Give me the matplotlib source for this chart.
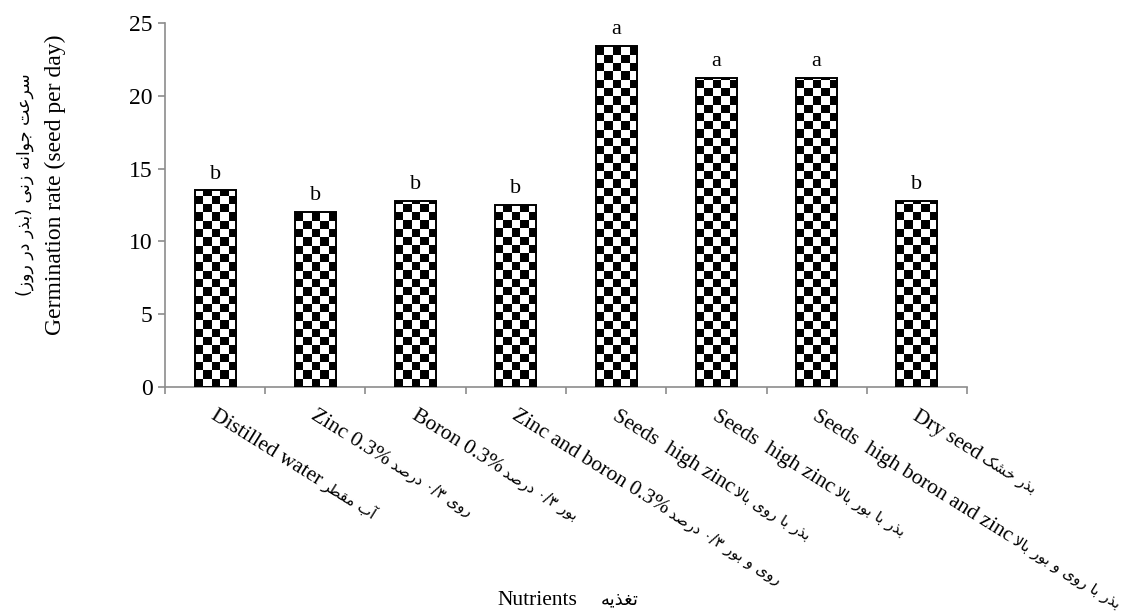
import numpy as np
import matplotlib
matplotlib.use('Agg')
import matplotlib.pyplot as plt

# data
eng_labels = ['Distilled water', 'Zinc 0.3%', 'Boron 0.3%', 'Zinc and boron 0.3%',
              'Seeds  high zinc', 'Seeds  high zinc', 'Seeds  high boron and zinc', 'Dry seed']
fa_labels = ['آب مقطر', 'روی ۰/۳ درصد', 'بور ۰/۳ درصد', 'روی و بور ۰/۳ درصد',
             'بذر با روی بالا', 'بذر با بور بالا', 'بذر با روی و بور بالا', 'بذر خشک']
rates = [13.5, 12.0, 12.8, 12.5, 23.4, 21.2, 21.2, 12.8]
groups = ['b', 'b', 'b', 'b', 'a', 'a', 'a', 'b']
yticks = [0, 5, 10, 15, 20, 25]

# matplotlib does no arabic shaping, so do it by hand: (isolated, final, initial, medial)
FORMS = {
    'ا': ('\ufe8d', '\ufe8e'), 'آ': ('\ufe81', '\ufe82'),
    'ب': ('\ufe8f', '\ufe90', '\ufe91', '\ufe92'), 'ت': ('\ufe95', '\ufe96', '\ufe97', '\ufe98'),
    'ج': ('\ufe9d', '\ufe9e', '\ufe9f', '\ufea0'), 'خ': ('\ufea5', '\ufea6', '\ufea7', '\ufea8'),
    'د': ('\ufea9', '\ufeaa'), 'ذ': ('\ufeab', '\ufeac'),
    'ر': ('\ufead', '\ufeae'), 'ز': ('\ufeaf', '\ufeb0'),
    'س': ('\ufeb1', '\ufeb2', '\ufeb3', '\ufeb4'), 'ش': ('\ufeb5', '\ufeb6', '\ufeb7', '\ufeb8'),
    'ص': ('\ufeb9', '\ufeba', '\ufebb', '\ufebc'), 'ط': ('\ufec1', '\ufec2', '\ufec3', '\ufec4'),
    'ع': ('\ufec9', '\ufeca', '\ufecb', '\ufecc'), 'غ': ('\ufecd', '\ufece', '\ufecf', '\ufed0'),
    'ق': ('\ufed5', '\ufed6', '\ufed7', '\ufed8'), 'ل': ('\ufedd', '\ufede', '\ufedf', '\ufee0'),
    'م': ('\ufee1', '\ufee2', '\ufee3', '\ufee4'), 'ن': ('\ufee5', '\ufee6', '\ufee7', '\ufee8'),
    'ه': ('\ufee9', '\ufeea', '\ufeeb', '\ufeec'), 'و': ('\ufeed', '\ufeee'),
    'ی': ('\ufbfc', '\ufbfd', '\ufbfe', '\ufbff'), 'ک': ('\ufb8e', '\ufb8f', '\ufb90', '\ufb91'),
}
MIRROR = {'(': ')', ')': '('}


def shape(word):
    out = []
    i = 0
    n = len(word)
    while i < n:
        c = word[i]
        if c not in FORMS:
            out.append(c)
            i += 1
            continue
        prev = word[i - 1] if i > 0 else None
        joins_prev = prev in FORMS and len(FORMS[prev]) == 4
        if c == 'ل' and i + 1 < n and word[i + 1] == 'ا':
            out.append('\ufefc' if joins_prev else '\ufefb')
            i += 2
            continue
        nxt = word[i + 1] if i + 1 < n else None
        joins_next = len(FORMS[c]) == 4 and nxt in FORMS
        f = FORMS[c]
        if joins_prev and joins_next:
            out.append(f[3])
        elif joins_prev:
            out.append(f[1])
        elif joins_next:
            out.append(f[2])
        else:
            out.append(f[0])
        i += 1
    return ''.join(out)


def fa(text):
    words = []
    for w in text.split(' ')[::-1]:
        s = shape(w)
        if any(c in FORMS for c in w):
            s = ''.join(MIRROR.get(c, c) for c in s[::-1])
        words.append(s)
    return ' '.join(words)


plt.rcParams['font.family'] = ['Liberation Serif', 'DejaVu Sans']
grey = '#8c8c8c'

fig = plt.figure(figsize=(11.33, 6.15), dpi=100)
ax = fig.add_axes([0.1456, 0.3707, 0.7079, 0.5919])

x = np.arange(len(rates))
bars = ax.bar(x, rates, width=0.41, facecolor='none', edgecolor='black', linewidth=1.4, zorder=3)
ax.set_xlim(-0.5, len(rates) - 0.5)
ax.set_ylim(0, 25)

# checkerboard fill, about 8 px cells
bbox = ax.get_window_extent()
cw = 8.3 * len(rates) / bbox.width
ch = 8.3 * 25 / bbox.height
for b in bars:
    cols = int(np.ceil(b.get_width() / cw))
    rows = int(np.ceil(b.get_height() / ch))
    board = (np.indices((rows, cols)).sum(axis=0) % 2).astype(float)
    im = ax.imshow(board, cmap='gray', interpolation='nearest', aspect='auto', origin='lower',
                   extent=(b.get_x(), b.get_x() + cols * cw, 0, rows * ch), zorder=2)
    im.set_clip_path(b)
ax.set_xlim(-0.5, len(rates) - 0.5)
ax.set_ylim(0, 25)

for xi, v, g in zip(x, rates, groups):
    ax.annotate(g, (xi, v), xytext=(0, 5), textcoords='offset points',
                ha='center', va='bottom', fontsize=16)

for s in ['top', 'right']:
    ax.spines[s].set_visible(False)
for s in ['left', 'bottom']:
    ax.spines[s].set_color(grey)
    ax.spines[s].set_linewidth(1.2)

ax.set_yticks(yticks)
ax.tick_params(axis='y', colors=grey, labelcolor='black', labelsize=17, length=5, width=1.2, pad=4)
ax.set_xticks(np.arange(-0.5, len(rates), 1.0))
ax.set_xticklabels([])
ax.tick_params(axis='x', colors=grey, length=5, width=1.2)

# rotated category labels: english part, then the persian part right after it
renderer = fig.canvas.get_renderer()
rot = 32
ca, sa = np.cos(np.deg2rad(rot)), np.sin(np.deg2rad(rot))
dx, dy = -3.5, -22.5
for xi, e, p in zip(x, eng_labels, fa_labels):
    ax.annotate(e, (xi, 0), xycoords=('data', 'axes fraction'), xytext=(dx, dy),
                textcoords='offset points', rotation=-rot, rotation_mode='anchor',
                ha='left', va='baseline', fontsize=15.5, annotation_clip=False)
    tmp = fig.text(0, 0, e, fontsize=15.5)
    w = tmp.get_window_extent(renderer).width * 72 / fig.dpi + 2.5
    tmp.remove()
    ax.annotate(fa(p), (xi, 0), xycoords=('data', 'axes fraction'),
                xytext=(dx + w * ca, dy - w * sa), textcoords='offset points',
                rotation=-rot, rotation_mode='anchor', ha='left', va='baseline',
                fontsize=11, family='DejaVu Sans', annotation_clip=False)

fig.text(0.0485, 0.70, 'Germination rate (seed per day)', rotation=90, ha='center', va='center', fontsize=17)
fig.text(0.022, 0.70, fa('سرعت جوانه زنی (بذر در روز)'), rotation=90, ha='center', va='center',
         fontsize=12.5, family='DejaVu Sans')
fig.text(0.474, 0.024, 'Nutrients', ha='center', va='center', fontsize=15.5)
fig.text(0.547, 0.026, fa('تغذیه'), ha='center', va='center', fontsize=13, family='DejaVu Sans')

fig.savefig('out.png', dpi=100)
